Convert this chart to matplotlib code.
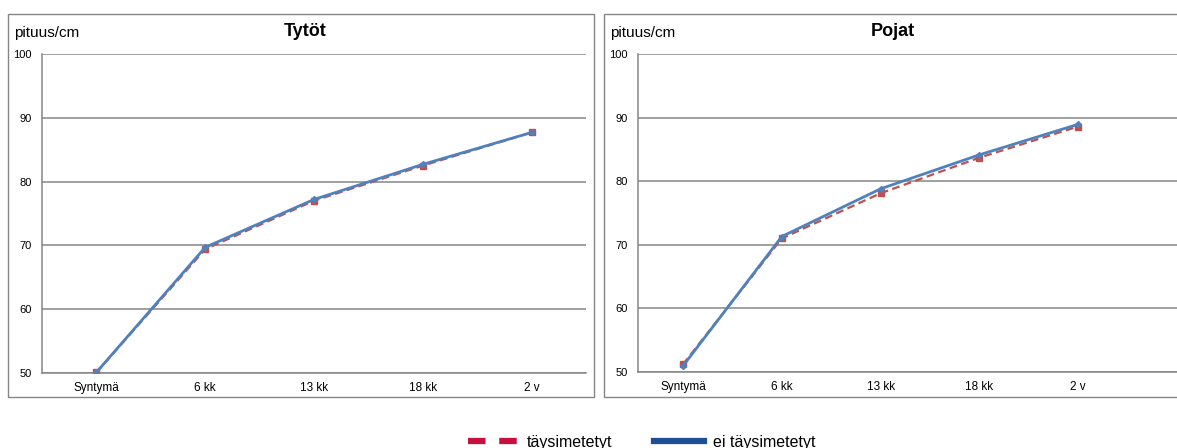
import matplotlib.pyplot as plt
from matplotlib.lines import Line2D
from matplotlib.patches import Rectangle

plt.rcParams['font.family'] = ['Liberation Sans', 'DejaVu Sans']

categories = ['Syntymä', '6 kk', '13 kk', '18 kk', '2 v']
series_labels = ['täysimetetyt', 'ei täysimetetyt']
y_label = 'pituus/cm'

# Tytöt
girls_full = [50.1, 69.4, 77.0, 82.5, 87.7]
girls_not = [50.1, 69.7, 77.2, 82.7, 87.7]
# Pojat
boys_full = [51.2, 71.0, 78.1, 83.7, 88.6]
boys_not = [50.95, 71.3, 78.8, 84.15, 88.95]

W, H = 1177, 448
fig = plt.figure(figsize=(W / 100, H / 100), dpi=100)

grid_col = '#858585'
red = '#c0504d'
blue = '#4f81bd'


def fx(px):
    return px / W


def fy(py):
    return 1 - py / H


# panel frames
for x0, x1 in [(8, 594), (604, 1185)]:
    fig.patches.append(Rectangle((fx(x0), fy(397)), fx(x1 - x0), (397 - 14) / H,
                                 transform=fig.transFigure, fill=False,
                                 edgecolor=grid_col, lw=1.0))

panels = [
    ('Tytöt', girls_full, girls_not, 42, 586, 373, (-0.5, 4.5), 305),
    ('Pojat', boys_full, boys_not, 638, 1177, 372, (-0.455, 5.0), 893),
]

for title, full, notfull, left, right, bottom, xl, tx in panels:
    ax = fig.add_axes([fx(left), fy(bottom), fx(right - left), (bottom - 54) / H])
    x = list(range(len(categories)))
    ax.plot(x, full, color=red, lw=1.6, ls=(0, (3.5, 2)), marker='s', ms=4.5, zorder=3)
    ax.plot(x, notfull, color=blue, lw=2.0, marker='D', ms=3, zorder=4)
    ax.set_xlim(*xl)
    ax.set_ylim(50, 100)
    ax.set_yticks([50, 60, 70, 80, 90, 100])
    ax.set_xticks(x)
    ax.set_xticklabels(categories, fontsize=8.5)
    ax.tick_params(axis='y', length=0, pad=7.5, labelsize=8)
    ax.tick_params(axis='x', length=0, pad=6.5)
    ax.grid(axis='y', color=grid_col, lw=1.1)
    ax.set_axisbelow(True)
    for s in ['top', 'right']:
        ax.spines[s].set_visible(False)
    for s in ['left', 'bottom']:
        ax.spines[s].set_color(grid_col)
        ax.spines[s].set_linewidth(1.1)
    fig.text(fx(left - 28), fy(33), y_label, fontsize=11, va='center', ha='left')
    fig.text(fx(tx), fy(32), title, fontsize=13, fontweight='bold', va='center', ha='center')

handles = [
    Line2D([], [], color='#c8103e', lw=4.5, ls=(0, (2.8, 2.2))),
    Line2D([], [], color='#1f4e96', lw=4.5),
]
fig.legend(handles, series_labels, loc='center', bbox_to_anchor=(fx(642), fy(442)),
           ncol=2, frameon=False, fontsize=11.5, handlelength=3.1,
           handletextpad=0.6, columnspacing=2.6)

fig.savefig('out.png', dpi=100)
